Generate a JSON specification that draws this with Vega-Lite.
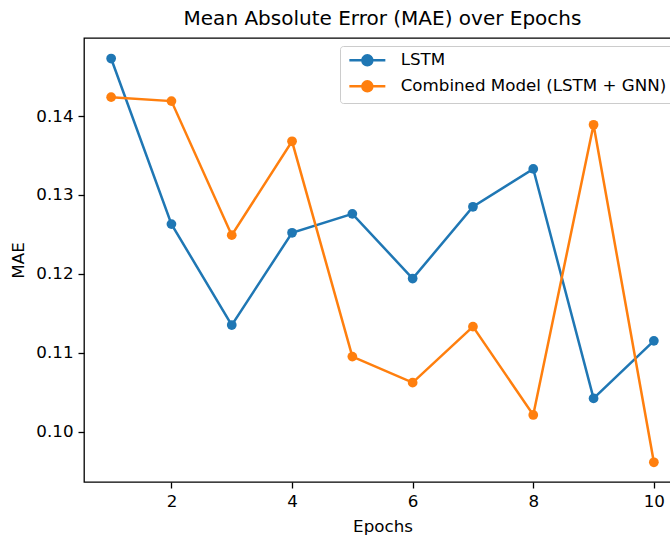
{
  "$schema": "https://vega.github.io/schema/vega-lite/v6.json",
  "autosize": {"type": "none"},
  "padding": {"left": 84, "top": 38, "right": 0, "bottom": 53},
  "width": 597,
  "height": 444,
  "background": "white",
  "title": {
    "text": "Mean Absolute Error (MAE) over Epochs",
    "font": "DejaVu Sans",
    "fontSize": 20,
    "fontWeight": "normal",
    "color": "black",
    "anchor": "middle",
    "baseline": "alphabetic",
    "offset": 10,
    "dy": 17
  },
  "config": {
    "view": {"stroke": "black", "strokeWidth": 1.3},
    "axis": {
      "domain": false,
      "grid": false,
      "tickColor": "black",
      "tickSize": 6,
      "tickWidth": 1.3,
      "labelFont": "DejaVu Sans",
      "labelFontSize": 16.7,
      "labelColor": "black",
      "titleFont": "DejaVu Sans",
      "titleFontSize": 16.7,
      "titleFontWeight": "normal",
      "titleColor": "black"
    }
  },
  "data": {
    "values": [
      {"epoch": 1, "model": "LSTM", "mae": 0.1473},
      {"epoch": 2, "model": "LSTM", "mae": 0.1263},
      {"epoch": 3, "model": "LSTM", "mae": 0.1135},
      {"epoch": 4, "model": "LSTM", "mae": 0.1252},
      {"epoch": 5, "model": "LSTM", "mae": 0.1276},
      {"epoch": 6, "model": "LSTM", "mae": 0.1194},
      {"epoch": 7, "model": "LSTM", "mae": 0.1285},
      {"epoch": 8, "model": "LSTM", "mae": 0.1333},
      {"epoch": 9, "model": "LSTM", "mae": 0.1042},
      {"epoch": 10, "model": "LSTM", "mae": 0.1115},
      {"epoch": 1, "model": "Combined Model (LSTM + GNN)", "mae": 0.1424},
      {"epoch": 2, "model": "Combined Model (LSTM + GNN)", "mae": 0.1419},
      {"epoch": 3, "model": "Combined Model (LSTM + GNN)", "mae": 0.1249},
      {"epoch": 4, "model": "Combined Model (LSTM + GNN)", "mae": 0.1368},
      {"epoch": 5, "model": "Combined Model (LSTM + GNN)", "mae": 0.1095},
      {"epoch": 6, "model": "Combined Model (LSTM + GNN)", "mae": 0.1062},
      {"epoch": 7, "model": "Combined Model (LSTM + GNN)", "mae": 0.1133},
      {"epoch": 8, "model": "Combined Model (LSTM + GNN)", "mae": 0.1021},
      {"epoch": 9, "model": "Combined Model (LSTM + GNN)", "mae": 0.1389},
      {"epoch": 10, "model": "Combined Model (LSTM + GNN)", "mae": 0.0961}
    ]
  },
  "encoding": {
    "x": {
      "field": "epoch",
      "type": "quantitative",
      "title": "Epochs",
      "scale": {"domain": [0.55, 10.45], "nice": false, "zero": false},
      "axis": {"values": [2, 4, 6, 8, 10], "labelPadding": 5, "titlePadding": 9}
    },
    "y": {
      "field": "mae",
      "type": "quantitative",
      "title": "MAE",
      "scale": {"domain": [0.0936, 0.1499], "nice": false, "zero": false},
      "axis": {"values": [0.10, 0.11, 0.12, 0.13, 0.14], "format": ".2f", "labelPadding": 5, "titlePadding": 8}
    },
    "color": {
      "field": "model",
      "type": "nominal",
      "scale": {"domain": ["LSTM", "Combined Model (LSTM + GNN)"], "range": ["#1f77b4", "#ff7f0e"]},
      "legend": {
        "title": null,
        "orient": "top-right",
        "offset": 8,
        "padding": 6,
        "rowPadding": 5,
        "fillColor": "rgba(255,255,255,0.8)",
        "strokeColor": "#cccccc",
        "cornerRadius": 3,
        "labelFont": "DejaVu Sans",
        "labelFontSize": 16.7,
        "labelColor": "black",
        "labelLimit": 500,
        "labelOffset": 25,
        "symbolType": "M-3.6,0H3.6M-1,0A1,1,0,1,1,1,0A1,1,0,1,1,-1,0Z",
        "symbolSize": 100,
        "symbolOffset": 13,
        "symbolStrokeWidth": 2.5,
        "symbolOpacity": 1,
        "encode": {
          "symbols": {
            "update": {
              "fill": {"scale": "color", "field": "value"},
              "stroke": {"scale": "color", "field": "value"},
              "strokeWidth": {"value": 2.5},
              "opacity": {"value": 1}
            }
          }
        }
      }
    }
  },
  "layer": [
    {
      "transform": [{"filter": "datum.model === 'LSTM'"}],
      "mark": {"type": "line", "strokeWidth": 2.5}
    },
    {
      "transform": [{"filter": "datum.model === 'LSTM'"}],
      "mark": {"type": "point", "filled": true, "size": 95, "opacity": 1}
    },
    {
      "transform": [{"filter": "datum.model !== 'LSTM'"}],
      "mark": {"type": "line", "strokeWidth": 2.5}
    },
    {
      "transform": [{"filter": "datum.model !== 'LSTM'"}],
      "mark": {"type": "point", "filled": true, "size": 95, "opacity": 1}
    }
  ]
}
